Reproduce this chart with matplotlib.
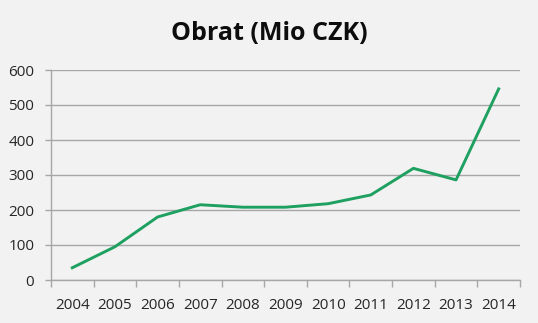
import matplotlib
matplotlib.use("Agg")
import matplotlib.pyplot as plt
import numpy as np

years = ["2004", "2005", "2006", "2007", "2008", "2009", "2010", "2011", "2012", "2013", "2014"]
turnover = [35, 95, 180, 215, 208, 208, 218, 243, 319, 286, 546]
y_ticks = [0, 100, 200, 300, 400, 500, 600]

bg = "#f2f2f2"
grid_c = "#a6a6a6"
line_c = "#1ea060"

fig = plt.figure(figsize=(5.38, 3.23), dpi=100, facecolor=bg)
ax = fig.add_axes([51 / 538, 1 - 280 / 323, 469 / 538, 210 / 323], facecolor=bg)

x = np.arange(len(years))
ax.plot(x, turnover, color=line_c, lw=2.1, solid_joinstyle="round", zorder=3)

ax.set_xlim(-0.5, len(years) - 0.5)
ax.set_ylim(0, 600)
ax.set_yticks(y_ticks)
ax.set_yticklabels([str(v) for v in y_ticks], fontsize=11, color="#262626", family="Open Sans")
ax.yaxis.grid(True, color=grid_c, lw=1)
ax.set_axisbelow(True)

# category labels at the centres, tick marks between categories
ax.set_xticks(x)
ax.set_xticklabels(years, fontsize=11, color="#262626", family="Open Sans")
ax.tick_params(axis="x", length=0, pad=13)
ax.set_xticks(np.arange(-0.5, len(years)), minor=True)
ax.tick_params(axis="x", which="minor", length=5, color=grid_c, width=1)
ax.tick_params(axis="y", length=4, color=grid_c, width=1, pad=8)

for s in ["top", "right"]:
    ax.spines[s].set_visible(False)
for s in ["left", "bottom"]:
    ax.spines[s].set_color(grid_c)
    ax.spines[s].set_linewidth(1)

fig.text(0.5, 1 - 34 / 323, "Obrat (Mio CZK)", ha="center", va="center",
         fontsize=18, fontweight="bold", family="Open Sans", color="#0d0d0d")

fig.savefig("out.png", dpi=100, facecolor=bg)
